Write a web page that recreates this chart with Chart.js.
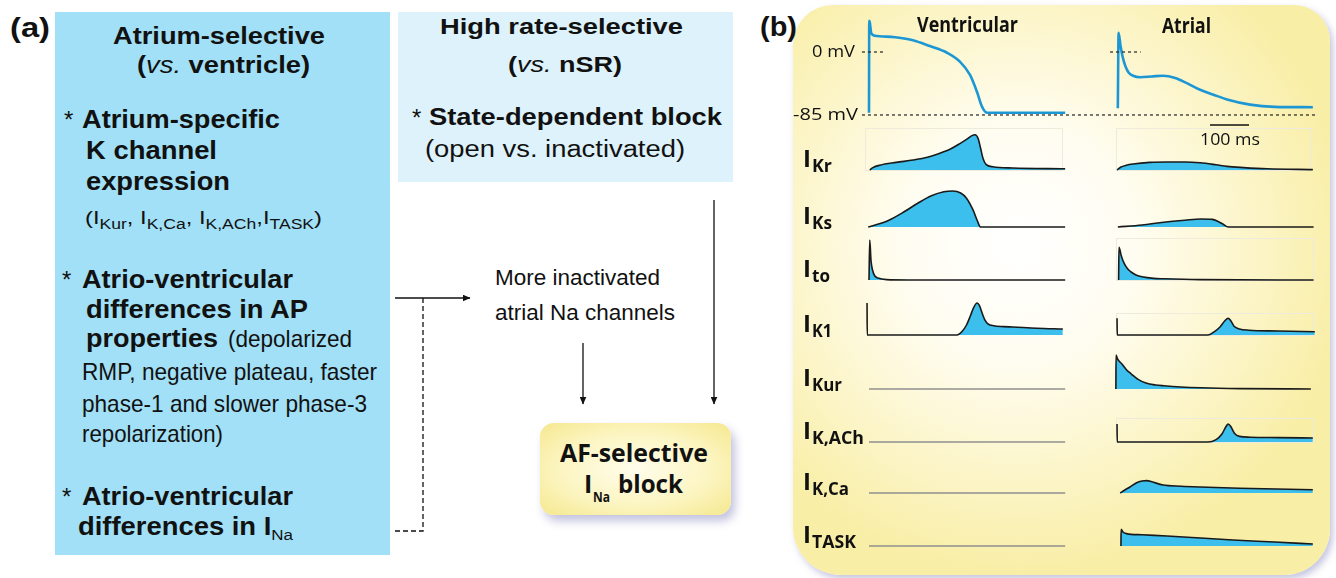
<!DOCTYPE html>
<html>
<head>
<meta charset="utf-8">
<script src="https://cdn.jsdelivr.net/npm/chart.js@4.4.1/dist/chart.umd.min.js"></script>
<style>
html, body { margin: 0; padding: 0; background: #fff; }
body { width: 1336px; height: 578px; position: relative; overflow: hidden; color: #111;
       font-family: "Liberation Sans", Arial, sans-serif; }
.t { position: absolute; white-space: nowrap; line-height: 1; transform-origin: 0 0; }
.b { font-weight: bold; }
.m { font-family: "Open Sans", sans-serif; }
.s { font-size: 0.62em; vertical-align: -0.32em; }
.s2 { font-size: 0.74em; vertical-align: -0.36em; }
.box { position: absolute; }
canvas { position: absolute; }
</style>
</head>
<body>
<div class="box" style="left:55px;top:12px;width:335px;height:543px;background:#a1e0f6;"></div>
<div class="box" style="left:398px;top:12px;width:335px;height:170px;background:#ddf2fa;"></div>
<div class="box" style="left:540px;top:423px;width:191px;height:92px;border-radius:14px;
  background:radial-gradient(ellipse at 50% 50%, #fffdec 0%, #fcf5c2 55%, #f5e88e 100%);
  box-shadow:4px 6px 10px rgba(120,120,185,0.45);"></div>
<div class="box" style="left:793px;top:5px;width:537px;height:570px;border-radius:40px 36px 46px 48px;
  background:radial-gradient(ellipse 62% 58% at 42% 42%, #ffffff 0%, #fffdf1 35%, #fcf5c9 70%, #f9eea6 100%);
  box-shadow:3px 4px 7px rgba(140,140,195,0.5);"></div>

<svg width="1336" height="578" style="position:absolute;left:0;top:0;z-index:2">
  <defs>
    <marker id="ah" markerWidth="8" markerHeight="7" refX="7.5" refY="3.5" orient="auto" markerUnits="userSpaceOnUse">
      <path d="M0,0 L8,3.5 L0,7 z" fill="#111"/>
    </marker>
  </defs>
  <g stroke="#111" stroke-width="1.3" fill="none">
    <line x1="395" y1="298" x2="470" y2="298" marker-end="url(#ah)"/>
    <polyline points="423,298 423,531 395,531" stroke-dasharray="5,3"/>
    <line x1="583" y1="343" x2="583" y2="404" marker-end="url(#ah)"/>
    <line x1="714" y1="200" x2="714" y2="404" marker-end="url(#ah)"/>
    <line x1="1210" y1="125" x2="1249" y2="125" stroke-width="1.4"/>
  </g>
  <g stroke="#efebdc" stroke-width="1" fill="none">
    <rect x="865.5" y="128.5" width="197" height="42"/>
    <rect x="1116.5" y="128.5" width="195" height="42"/>
    <rect x="1116.5" y="238.5" width="197" height="42"/>
    <rect x="1116.5" y="313.5" width="197" height="22"/>
    <rect x="1116.5" y="418.5" width="197" height="24"/>
  </g>
</svg>

<script>
// time axis in ms (0 = ventricular upstroke), scale bar: 100 ms
const scaleBarMs = 100;

// action potentials, [ms, mV]
const apVentricular = [[0,-82],[0.6,42],[2,40],[6,25],[15,22],[67,20],[113,16],[156,8],[200,-1],
  [233,-13],[259,-31],[277,-54],[290,-74],[303,-82],[503,-82]];
const apAtrial = [[638,-76],[640,26],[645,8],[651,-8],[658,-20],[666,-28],[677,-32],[695,-34],[725,-33],
  [754,-32],[785,-35],[815,-42],[849,-51],[885,-58],[918,-64],[977,-71],[1040,-74],[1138,-74.5]];
const refZeroVent = [[-18,0],[36,0]];
const refZeroAtrial = [[618,0],[697,0]];
const refRest = [[-18,-85],[1146,-85]];

// currents, [ms, relative amplitude]
const currentNames = ['Kr','Ks','to','K1','Kur','K,ACh','K,Ca','TASK'];
const ventFlat = [[0,0],[503,0]];
const ikrVent = [[2,0],[10,0.06],[28,0.12],[70,0.19],[113,0.25],[150,0.32],[182,0.42],[210,0.53],[233,0.66],
  [252,0.78],[264,0.86],[272,0.88],[280,0.78],[286,0.55],[292,0.3],[300,0.14],[318,0.08],[369,0.05],[503,0.03]];
const ikrAtrial = [[636,0],[645,0.07],[660,0.12],[677,0.15],[720,0.19],[764,0.2],[810,0.2],[849,0.18],
  [890,0.13],[918,0.09],[960,0.06],[1021,0.03],[1138,0.01]];
const iksVent = [[-2,0],[20,0.06],[51,0.17],[90,0.38],[126,0.6],[160,0.78],[192,0.88],[215,0.9],[235,0.85],
  [250,0.72],[267,0.42],[278,0.15],[286,0],[503,0]];
const iksAtrial = [[638,0],[700,0.05],[756,0.12],[810,0.17],[851,0.2],[880,0.19],[895,0.14],[908,0.07],[921,0],[1140,0]];
const itoVent = [[0,0],[2,1.0],[5,0.5],[9,0.25],[15,0.1],[23,0.05],[45,0.01],[100,0],[503,0]];
const itoAtrial = [[640,0],[641,0.82],[647,0.6],[654,0.42],[663,0.28],[672,0.2],[686,0.12],[700,0.08],
  [730,0.04],[756,0.03],[850,0.01],[1140,0]];
const ik1Vent = [[-5,0.8],[-4.5,0],[226,0],[238,0.08],[250,0.25],[260,0.48],[268,0.68],[277,0.8],[283,0.74],
  [290,0.55],[297,0.38],[305,0.28],[320,0.23],[345,0.21],[369,0.2],[430,0.17],[497,0.15]];
const ik1Atrial = [[636,0.42],[636.5,0],[869,0],[885,0.08],[900,0.2],[912,0.35],[921,0.42],[928,0.35],
  [936,0.22],[950,0.15],[974,0.12],[1050,0.1],[1143,0.08]];
const ikurAtrial = [[633,0],[633.5,0.85],[637,0.76],[641,0.7],[649,0.62],[660,0.48],[672,0.38],[690,0.24],
  [710,0.15],[735,0.1],[756,0.08],[800,0.05],[851,0.03],[950,0.01],[1133,0]];
const ikachAtrial = [[636,0.45],[636.5,0],[869,0],[890,0.06],[905,0.2],[915,0.38],[921,0.45],[928,0.38],
  [937,0.22],[950,0.14],[977,0.12],[1050,0.11],[1138,0.1]];
const ikcaAtrial = [[644,0],[655,0.07],[669,0.15],[685,0.25],[700,0.3],[712,0.31],[725,0.28],[754,0.2],
  [800,0.17],[849,0.15],[950,0.12],[1138,0.08]];
const itaskAtrial = [[646,0],[646.5,0.42],[651,0.35],[660,0.31],[700,0.28],[764,0.25],[850,0.2],
  [933,0.15],[1040,0.1],[1138,0.05]];

const ventTraces = [ikrVent, iksVent, itoVent, ik1Vent, null, null, null, null];
const atrialTraces = [ikrAtrial, iksAtrial, itoAtrial, ik1Atrial, ikurAtrial, ikachAtrial, ikcaAtrial, itaskAtrial];

// layout
const plotLeft = 848, plotWidth = 480, pxPerMs = 0.39, zeroPx = 869;
const rowBase = [170, 227, 280, 335, 389, 442, 493, 546];
const unitPx = 40, rowAbove = 45, rowBelow = 7;

const xs = { type: 'linear', display: false,
  min: (plotLeft - zeroPx) / pxPerMs, max: (plotLeft + plotWidth - zeroPx) / pxPerMs };
const pts = arr => arr.map(p => ({ x: p[0], y: p[1] }));

function makeCanvas(top, height) {
  const c = document.createElement('canvas');
  c.width = plotWidth; c.height = height;
  c.style.left = plotLeft + 'px'; c.style.top = top + 'px';
  c.style.width = plotWidth + 'px'; c.style.height = height + 'px';
  c.style.zIndex = 3;
  document.body.appendChild(c);
  return c;
}

const baseOpts = (ymin, ymax) => ({
  responsive: false, animation: false, devicePixelRatio: 1,
  layout: { padding: 0 },
  plugins: { legend: { display: false }, tooltip: { enabled: false } },
  elements: { point: { radius: 0 } },
  scales: { x: xs, y: { type: 'linear', display: false, min: ymin, max: ymax } }
});

// action potential row
{
  const top = 10, h = 115, mvPerPx = 1 / 0.741;
  const ymax = (52 - top) * mvPerPx, ymin = -(top + h - 52) * mvPerPx;
  const dotted = d => ({ data: pts(d), borderColor: '#222', borderWidth: 1.2, borderDash: [3, 3], fill: false, clip: false });
  const ap = d => ({ data: pts(d), borderColor: '#1c97d4', borderWidth: 2.6, fill: false,
    cubicInterpolationMode: 'monotone', clip: false });
  new Chart(makeCanvas(top, h), {
    type: 'line',
    data: { datasets: [dotted(refZeroVent), dotted(refZeroAtrial), dotted(refRest), ap(apVentricular), ap(apAtrial)] },
    options: baseOpts(ymin, ymax)
  });
}

// current rows
currentNames.forEach((name, i) => {
  const ds = [];
  const v = ventTraces[i];
  if (v) ds.push({ data: pts(v), borderColor: '#1a1a1a', borderWidth: 1.6, backgroundColor: '#3cbfec',
    fill: 'origin', cubicInterpolationMode: 'monotone', clip: false });
  else ds.push({ data: pts(ventFlat), borderColor: '#8f8f8f', borderWidth: 1.5, fill: false, clip: false });
  ds.push({ data: pts(atrialTraces[i]), borderColor: '#1a1a1a', borderWidth: 1.6, backgroundColor: '#3cbfec',
    fill: 'origin', cubicInterpolationMode: 'monotone', clip: false });
  new Chart(makeCanvas(rowBase[i] - rowAbove, rowAbove + rowBelow), {
    type: 'line', data: { datasets: ds },
    options: baseOpts(-rowBelow / unitPx, rowAbove / unitPx)
  });
});

// text
function put(html, x, base, size, w, cls) {
  const d = document.createElement('div');
  const asc = (cls || '').includes('m') ? 0.89 : 0.85;
  d.className = 't ' + (cls || '');
  d.style.left = x + 'px';
  d.style.top = (base - asc * size) + 'px';
  d.style.fontSize = size + 'px';
  d.style.zIndex = 4;
  d.innerHTML = html;
  if (w) d.dataset.w = w;
  document.body.appendChild(d);
}

put('(a)', 10, 38, 28, 40, 'b');
put('Atrium-selective', 113, 45, 23, 212, 'b');
put('(<i style="font-weight:normal">vs.</i> ventricle)', 137, 74, 23, 173, 'b');
put('*', 64, 128, 24, 0, '');
put('Atrium-specific', 82, 128, 25, 198, 'b');
put('K channel', 86, 159, 25, 131, 'b');
put('expression', 86, 190, 25, 144, 'b');
put('(I<span class="s2">Kur</span>, I<span class="s2">K,Ca</span>, I<span class="s2">K,ACh</span>,I<span class="s2">TASK</span>)', 85, 224, 19, 237, '');
put('*', 62, 288, 24, 0, '');
put('Atrio-ventricular', 82, 288, 25, 211, 'b');
put('differences in AP', 86, 318, 25, 222, 'b');
put('properties', 86, 347, 25, 132, 'b');
put('(depolarized', 228, 347, 24, 124, '');
put('RMP, negative plateau, faster', 82, 380, 24, 295, '');
put('phase-1 and slower phase-3', 82, 412, 24, 285, '');
put('repolarization)', 82, 442, 24, 141, '');
put('*', 62, 505, 24, 0, '');
put('Atrio-ventricular', 82, 505, 25, 211, 'b');
put('differences in I<span class="s" style="font-weight:normal">Na</span>', 78, 535, 25, 215, 'b');

put('High rate-selective', 440, 35, 22, 243, 'b');
put('(<i style="font-weight:normal">vs.</i> nSR)', 508, 73, 22, 114, 'b');
put('*', 412, 126, 24, 0, '');
put('State-dependent block', 429, 126, 23, 293, 'b');
put('(open vs. inactivated)', 425, 158, 23, 260, '');
put('More inactivated', 495, 286, 22, 165, '');
put('atrial Na channels', 495, 321, 22, 180, '');
put('AF-selective', 560, 462, 25, 148, 'b m');
put('I', 584, 493, 25, 0, 'b m');
put('Na', 593, 502, 14, 17, 'b m');
put('block', 618, 493, 25, 65, 'b m');

put('(b)', 760, 37, 28, 37, 'b');
put('Ventricular', 917, 33, 21, 101, 'b m');
put('Atrial', 1162, 34, 21, 49, 'b m');
put('0 mV', 812, 57, 17, 43, 'm');
put('-85 mV', 793, 120, 17, 65, 'm');
put(scaleBarMs + ' ms', 1200, 145, 17, 60, 'm');

const subWidths = [20, 20, 18, 20, 30, 52, 37, 44];
currentNames.forEach((name, i) => {
  put('I', 803, rowBase[i] - 3, 24, 0, 'b m');
  put(name, 812, rowBase[i] + 2, 17, subWidths[i], 'b m');
});

function fitAll() {
  document.querySelectorAll('[data-w]').forEach(el => {
    el.style.transform = 'none';
    const w = el.getBoundingClientRect().width;
    if (w > 0) el.style.transform = 'scaleX(' + (el.dataset.w / w) + ')';
  });
}
fitAll();
document.fonts.ready.then(fitAll);
</script>
</body>
</html>
